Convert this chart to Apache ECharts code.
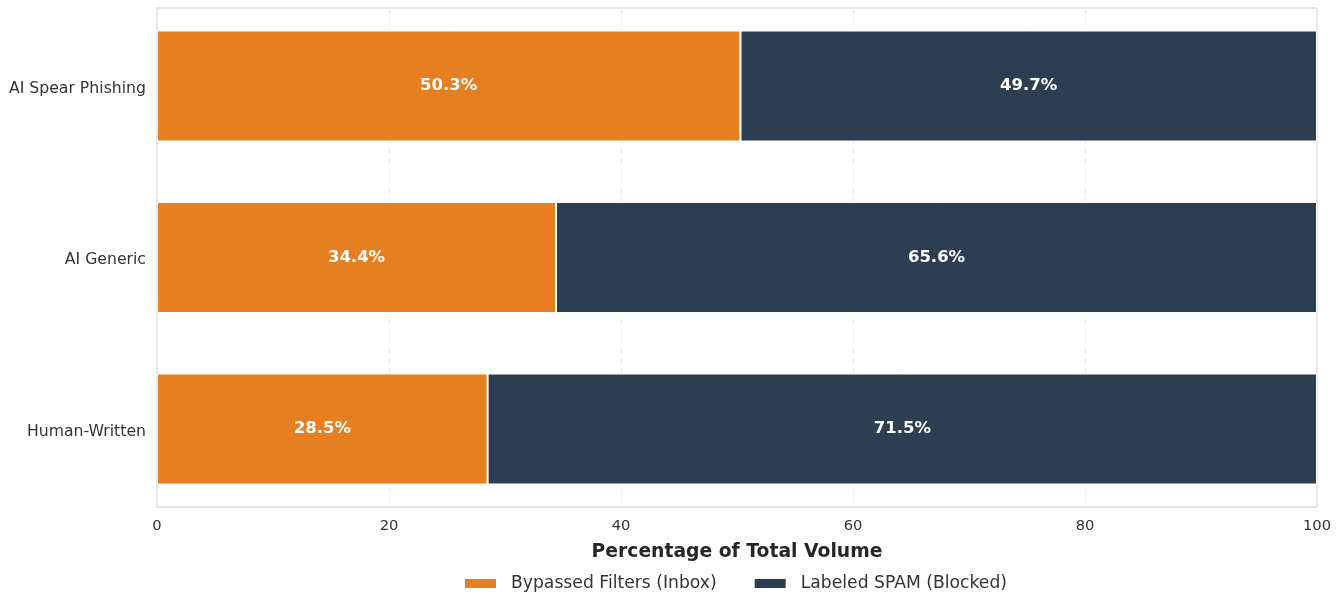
<!DOCTYPE html>
<html>
<head>
<meta charset="utf-8">
<script src="https://cdn.jsdelivr.net/npm/echarts@6/dist/echarts.min.js"></script>
<style>
  html, body { margin: 0; padding: 0; background: #fff; }
  #chart { width: 1341px; height: 594px; }
</style>
</head>
<body>
<div id="chart"></div>
<script>
// Email categories, listed top to bottom
const categories = ['AI Spear Phishing', 'AI Generic', 'Human-Written'];
// Share of each category's volume (%)
const bypassed = [50.3, 34.4, 28.5];
const blocked = [49.7, 65.6, 71.5];
const seriesNames = ['Bypassed Filters (Inbox)', 'Labeled SPAM (Blocked)'];
const xTicks = [0, 20, 40, 60, 80, 100];

const FONT = 'DejaVu Sans';
const chart = echarts.init(document.getElementById('chart'), null, { renderer: 'canvas' });

const segLabel = {
  show: true,
  position: 'inside',
  color: '#ffffff',
  fontFamily: FONT,
  fontWeight: 'bold',
  fontSize: 16.5,
  formatter: p => p.value.toFixed(1) + '%'
};

const xMin = xTicks[0];
const xMax = xTicks[xTicks.length - 1];
const BAND_TOP = 0.25;
const BAND_HEIGHT = 514.5;

chart.setOption({
  animation: false,
  textStyle: { fontFamily: FONT },
  grid: [
    // frame, ticks and gridlines
    { left: 157, right: 24, top: 8, bottom: 87,
      show: true, borderColor: '#cccccc', borderWidth: 1, backgroundColor: '#ffffff' },
    // bars, with a little padding above and below the outer bars
    { left: 157, right: 24, top: BAND_TOP, height: BAND_HEIGHT, show: false },
    // category names, set a touch lower so descenders sit below the bar centre
    { left: 157, right: 24, top: BAND_TOP + 2.5, height: BAND_HEIGHT, show: false }
  ],
  legend: {
    top: 570,
    left: 458,
    itemWidth: 33,
    itemHeight: 11,
    itemGap: 36,
    icon: 'rect',
    textStyle: { fontFamily: FONT, fontSize: 17.2, color: '#333333', padding: [0, 0, 0, 9] },
    data: seriesNames
  },
  xAxis: [
    {
      gridIndex: 0,
      type: 'value',
      min: xMin,
      max: xMax,
      interval: 20,
      name: 'Percentage of Total Volume',
      nameLocation: 'middle',
      nameGap: 36,
      nameTextStyle: { fontFamily: FONT, fontSize: 18.75, fontWeight: 'bold', color: '#262626' },
      axisLine: { show: false },
      axisTick: { show: false },
      axisLabel: { fontFamily: FONT, fontSize: 14.7, color: '#333333', margin: 12 },
      splitLine: { show: true, lineStyle: { color: '#ebebeb', type: [6, 4], width: 1 } }
    },
    { gridIndex: 1, type: 'value', min: xMin, max: xMax, show: false, splitLine: { show: false } },
    { gridIndex: 2, type: 'value', min: xMin, max: xMax, show: false, splitLine: { show: false } }
  ],
  yAxis: [
    { gridIndex: 0, type: 'value', show: false, splitLine: { show: false } },
    {
      gridIndex: 1,
      type: 'category',
      data: categories,
      inverse: true,
      axisLine: { show: false },
      axisTick: { show: false },
      axisLabel: { show: false },
      splitLine: { show: false }
    },
    {
      gridIndex: 2,
      type: 'category',
      data: categories,
      inverse: true,
      axisLine: { show: false },
      axisTick: { show: false },
      axisLabel: { fontFamily: FONT, fontSize: 15.7, color: '#333333', margin: 11 },
      splitLine: { show: false }
    }
  ],
  series: [
    {
      name: seriesNames[0],
      type: 'bar',
      stack: 'total',
      xAxisIndex: 1,
      yAxisIndex: 1,
      data: bypassed,
      barWidth: 111,
      itemStyle: { color: '#e67e22', borderColor: '#ffffff', borderWidth: 1 },
      label: segLabel
    },
    {
      name: seriesNames[1],
      type: 'bar',
      stack: 'total',
      xAxisIndex: 1,
      yAxisIndex: 1,
      data: blocked,
      barWidth: 111,
      itemStyle: { color: '#2c3e50', borderColor: '#ffffff', borderWidth: 1 },
      label: segLabel
    }
  ]
});
</script>
</body>
</html>
